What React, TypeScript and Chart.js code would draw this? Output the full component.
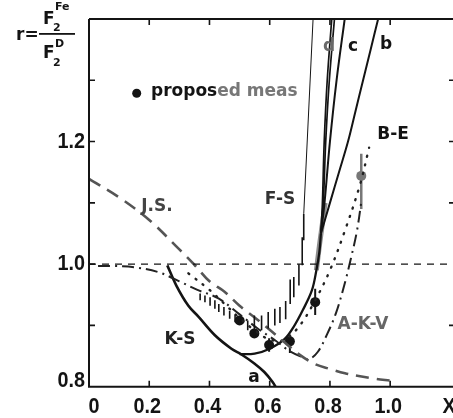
import { useEffect, useRef } from 'react';
import { Chart, registerables } from 'chart.js';
Chart.register(...registerables);

// Axis ticks
const xTickValues = [0, 0.2, 0.4, 0.6, 0.8, 1.0];
const xTickLabels = ['0', '0.2', '0.4', '0.6', '0.8', '1.0'];
const yTickValues = [0.8, 1.0, 1.2];
const yTickLabels = ['0.8', '1.0', '1.2'];
const yMinorTicks = [0.9, 1.0, 1.1, 1.2, 1.3];
const xMinorTicks = [0.2, 0.4, 0.6, 0.8, 1.0];

// J.S. (dashed)
const jsX = [0, 0.1, 0.2, 0.3, 0.35, 0.4, 0.45, 0.5, 0.55, 0.6, 0.65, 0.7, 0.75, 0.8, 0.85, 0.9, 0.95, 1.0];
const jsY = [1.139, 1.109, 1.072, 1.024, 0.999, 0.972, 0.955, 0.932, 0.913, 0.893, 0.872, 0.852, 0.837, 0.829, 0.822, 0.817, 0.813, 0.81];

// A-K-V (dash-dot)
const akvX = [0.03, 0.08, 0.15, 0.23, 0.3, 0.36, 0.43, 0.5, 0.56, 0.62, 0.66, 0.7, 0.73, 0.76, 0.79, 0.82, 0.85, 0.87, 0.89, 0.905];
const akvY = [0.997, 0.997, 0.995, 0.987, 0.972, 0.958, 0.944, 0.918, 0.895, 0.875, 0.86, 0.85, 0.845, 0.857, 0.885, 0.92, 0.97, 1.01, 1.055, 1.105];

// B-E (dotted)
const beX = [0.33, 0.4, 0.45, 0.5, 0.55, 0.6, 0.65, 0.7, 0.75, 0.8, 0.85, 0.9, 0.93];
const beY = [0.985, 0.958, 0.935, 0.912, 0.892, 0.877, 0.877, 0.9, 0.94, 0.99, 1.055, 1.13, 1.19];

// K-S (curve a)
const ksX = [0.26, 0.29, 0.33, 0.364, 0.418, 0.473, 0.505, 0.549, 0.582, 0.609, 0.625];
const ksY = [0.998, 0.965, 0.932, 0.914, 0.884, 0.862, 0.853, 0.838, 0.824, 0.808, 0.795];

// common trunk of curves b, c, d
const trunkX = [0.5, 0.55, 0.6, 0.65, 0.68, 0.71, 0.74, 0.755, 0.765, 0.77];
const trunkY = [0.853, 0.854, 0.862, 0.878, 0.898, 0.925, 0.957, 0.99, 1.02, 1.05];
const bX = [0.77, 0.8, 0.83, 0.86, 0.885, 0.91, 0.935, 0.96];
const bY = [1.05, 1.1, 1.15, 1.2, 1.25, 1.3, 1.35, 1.4];
const cX = [0.77, 0.782, 0.8, 0.822, 0.849];
const cY = [1.05, 1.1, 1.2, 1.3, 1.4];
const dX = [0.77, 0.775, 0.781, 0.791, 0.806];
const dY = [1.05, 1.1, 1.2, 1.3, 1.4];
const d2X = [0.77, 0.778, 0.786, 0.798, 0.815];
const d2Y = [1.05, 1.1, 1.2, 1.3, 1.4];
const bandX = [0.755, 0.765, 0.776, 0.784];
const bandY = [0.99, 1.03, 1.07, 1.1];

// F-S hatched band (vertical strokes) and its thin upper line
const fsX = [0.369, 0.385, 0.402, 0.418, 0.431, 0.448, 0.467, 0.485, 0.527, 0.549, 0.573, 0.595, 0.617, 0.634, 0.653, 0.668, 0.68, 0.697, 0.708, 0.713];
const fsLo = [0.941, 0.938, 0.932, 0.927, 0.922, 0.916, 0.911, 0.905, 0.892, 0.889, 0.892, 0.895, 0.9, 0.904, 0.91, 0.935, 0.946, 0.965, 0.998, 1.039];
const fsHi = [0.952, 0.949, 0.946, 0.941, 0.935, 0.93, 0.924, 0.918, 0.908, 0.916, 0.916, 0.922, 0.927, 0.93, 0.94, 0.975, 0.979, 1.0, 1.044, 1.082];
const fsLineX = [0.713, 0.744];
const fsLineY = [1.082, 1.4];

// proposed measurements
const measX = [0.5, 0.549, 0.598, 0.667, 0.751];
const measY = [0.908, 0.887, 0.868, 0.874, 0.938];
const measLo = [0.901, 0.881, 0.857, 0.855, 0.917];
const measHi = [0.915, 0.893, 0.879, 0.885, 0.96];
const beMeasX = [0.904];
const beMeasY = [1.144];
const beMeasLo = [1.09];
const beMeasHi = [1.18];

const unityX = [0, 1.192];
const unityY = [1.0, 1.0];

const zip = (xs: number[], ys: number[]) => xs.map((x, i) => ({ x, y: ys[i] }));
const segs = (xs: number[], lo: number[], hi: number[]) =>
  xs.flatMap((x, i) => [{ x, y: lo[i] }, { x, y: hi[i] }, { x, y: null as any }]);

const INK = '#141414';
const LABEL_FONT = 'bold 17px "DejaVu Sans", sans-serif';
const TICK_FONT = 'bold 22px "Liberation Sans", "DejaVu Sans", sans-serif';
const TICK_SQUEEZE = 0.9;

const framePlugin = {
  id: 'frame',
  afterDatasetsDraw(chart: any) {
    const ctx = chart.ctx as CanvasRenderingContext2D;
    const xs = chart.scales.x;
    const ys = chart.scales.y;
    const a = chart.chartArea;
    ctx.save();
    ctx.strokeStyle = INK;
    ctx.lineWidth = 2;
    ctx.beginPath();
    ctx.moveTo(a.left, a.top);
    ctx.lineTo(a.left, a.bottom);
    ctx.lineTo(chart.width, a.bottom);
    ctx.moveTo(a.left, a.top);
    ctx.lineTo(chart.width, a.top);
    ctx.stroke();
    ctx.lineWidth = 1.6;
    ctx.beginPath();
    for (const v of xMinorTicks) {
      const px = xs.getPixelForValue(v);
      ctx.moveTo(px, a.bottom);
      ctx.lineTo(px, a.bottom - 6);
      ctx.moveTo(px, a.top);
      ctx.lineTo(px, a.top + 6);
    }
    for (const v of yMinorTicks) {
      const py = ys.getPixelForValue(v);
      ctx.moveTo(a.left, py);
      ctx.lineTo(a.left + 6, py);
      if (v !== 1.0) {
        ctx.moveTo(chart.width, py);
        ctx.lineTo(chart.width - 4, py);
      }
    }
    ctx.stroke();

    // tick labels (condensed digits)
    const squeezed = (t: string, x: number, y: number, align: CanvasTextAlign) => {
      ctx.save();
      ctx.translate(x, y);
      ctx.scale(TICK_SQUEEZE, 1);
      ctx.textAlign = align;
      ctx.fillText(t, 0, 0);
      ctx.restore();
    };
    ctx.fillStyle = INK;
    ctx.font = TICK_FONT;
    ctx.textBaseline = 'middle';
    xTickValues.forEach((v, i) => {
      const px = xs.getPixelForValue(v) + (v === 0 ? 5 : -2);
      squeezed(xTickLabels[i], px, a.bottom + 20, 'center');
    });
    squeezed('X', 449, a.bottom + 20, 'center');
    yTickValues.forEach((v, i) => {
      const py = ys.getPixelForValue(v) - (v === 0.8 ? 6 : 0);
      squeezed(yTickLabels[i], a.left - 4, py, 'right');
    });

    // axis title r = F2Fe / F2D
    ctx.textAlign = 'left';
    ctx.textBaseline = 'alphabetic';
    ctx.font = 'bold 17px "DejaVu Sans", sans-serif';
    ctx.fillText('r=', 16, 40);
    ctx.fillRect(39, 33, 36, 1.8);
    ctx.fillText('F', 43, 24);
    ctx.fillText('F', 43, 58);
    ctx.font = 'bold 11px "DejaVu Sans", sans-serif';
    ctx.fillText('2', 53, 31);
    ctx.fillText('Fe', 55, 10);
    ctx.fillText('2', 53, 66);
    ctx.fillText('D', 55, 47);

    // curve labels
    const labels: [string, number, number, string][] = [
      ['a', 254, 378, INK],
      ['b', 386, 45, INK],
      ['c', 353, 47, INK],
      ['d', 329, 47, '#6a6a6a'],
      ['K-S', 180, 340, '#222'],
      ['J.S.', 157, 207, '#444'],
      ['F-S', 280, 200, '#333'],
      ['A-K-V', 363, 325, '#666'],
      ['B-E', 393, 135, INK],
    ];
    ctx.font = LABEL_FONT;
    ctx.textAlign = 'center';
    ctx.textBaseline = 'middle';
    for (const [t, x, y, c] of labels) {
      ctx.fillStyle = c;
      ctx.fillText(t, x, y);
    }

    // legend
    ctx.fillStyle = INK;
    ctx.beginPath();
    ctx.arc(136.7, 93.3, 4.5, 0, Math.PI * 2);
    ctx.fill();
    ctx.textAlign = 'left';
    ctx.fillText('propos', 151, 92);
    const w = ctx.measureText('propos').width;
    ctx.fillStyle = '#777';
    ctx.fillText('ed meas', 151 + w, 92);
    ctx.restore();
  },
};

export default function App() {
  const ref = useRef<HTMLCanvasElement>(null);
  useEffect(() => {
    document.body.style.margin = '0';
    const line = (data: any[], extra: any) => ({
      type: 'line',
      data,
      borderColor: INK,
      borderWidth: 2,
      pointRadius: 0,
      fill: false,
      tension: 0.35,
      spanGaps: false,
      ...extra,
    });
    const chart = new Chart(ref.current!, {
      type: 'line',
      data: {
        datasets: [
          line(zip(unityX, unityY), { borderWidth: 1.3, borderDash: [7, 6], tension: 0 }),
          line(segs(fsX, fsLo, fsHi), { borderWidth: 1.6, tension: 0 }),
          line(zip(fsLineX, fsLineY), { borderWidth: 1, tension: 0 }),
          line(zip(jsX, jsY), { borderColor: '#555', borderWidth: 2.6, borderDash: [13, 8] }),
          line(zip(akvX, akvY), { borderColor: '#222', borderWidth: 2, borderDash: [12, 5, 2, 5] }),
          line(zip(beX, beY), { borderColor: '#222', borderWidth: 2.4, borderDash: [1, 8], borderCapStyle: 'round' }),
          line(zip(ksX, ksY), { borderWidth: 2.6 }),
          line(zip(trunkX, trunkY), { borderWidth: 2.3 }),
          line(zip(bX, bY), { borderWidth: 2 }),
          line(zip(cX, cY), { borderWidth: 2 }),
          line(zip(dX, dY), { borderWidth: 1.7 }),
          line(zip(d2X, d2Y), { borderWidth: 1.7 }),
          line(zip(bandX, bandY), { borderColor: 'rgba(120,120,120,0.85)', borderWidth: 5, tension: 0.2 }),
          line(segs(measX, measLo, measHi), { borderWidth: 2, tension: 0 }),
          line(segs(beMeasX, beMeasLo, beMeasHi), { borderColor: '#777', borderWidth: 2.5, tension: 0 }),
          line(zip(measX, measY), { showLine: false, pointRadius: 5, pointBackgroundColor: INK, pointBorderWidth: 0 }),
          line(zip(beMeasX, beMeasY), { showLine: false, pointRadius: 5, pointBackgroundColor: '#777', pointBorderWidth: 0 }),
        ] as any,
      },
      options: {
        responsive: false,
        animation: false,
        events: [],
        layout: { padding: { top: 19, right: 0, left: 0, bottom: 0 } },
        plugins: { legend: { display: false }, tooltip: { enabled: false } },
        scales: {
          x: {
            type: 'linear',
            min: 0,
            max: 1.192,
            grid: { display: false },
            border: { display: false },
            ticks: { display: false },
            afterFit: (s: any) => { s.height = 31.3; },
          },
          y: {
            type: 'linear',
            min: 0.8,
            max: 1.4,
            grid: { display: false },
            border: { display: false },
            ticks: { display: false },
            afterFit: (s: any) => { s.width = 89; },
          },
        },
      },
      plugins: [framePlugin],
    } as any);
    return () => chart.destroy();
  }, []);
  return (
    <div style={{ position: 'absolute', left: 0, top: 0, width: 453, height: 418, background: '#fff' }}>
      <canvas ref={ref} width={453} height={418} style={{ display: 'block' }} />
    </div>
  );
}
